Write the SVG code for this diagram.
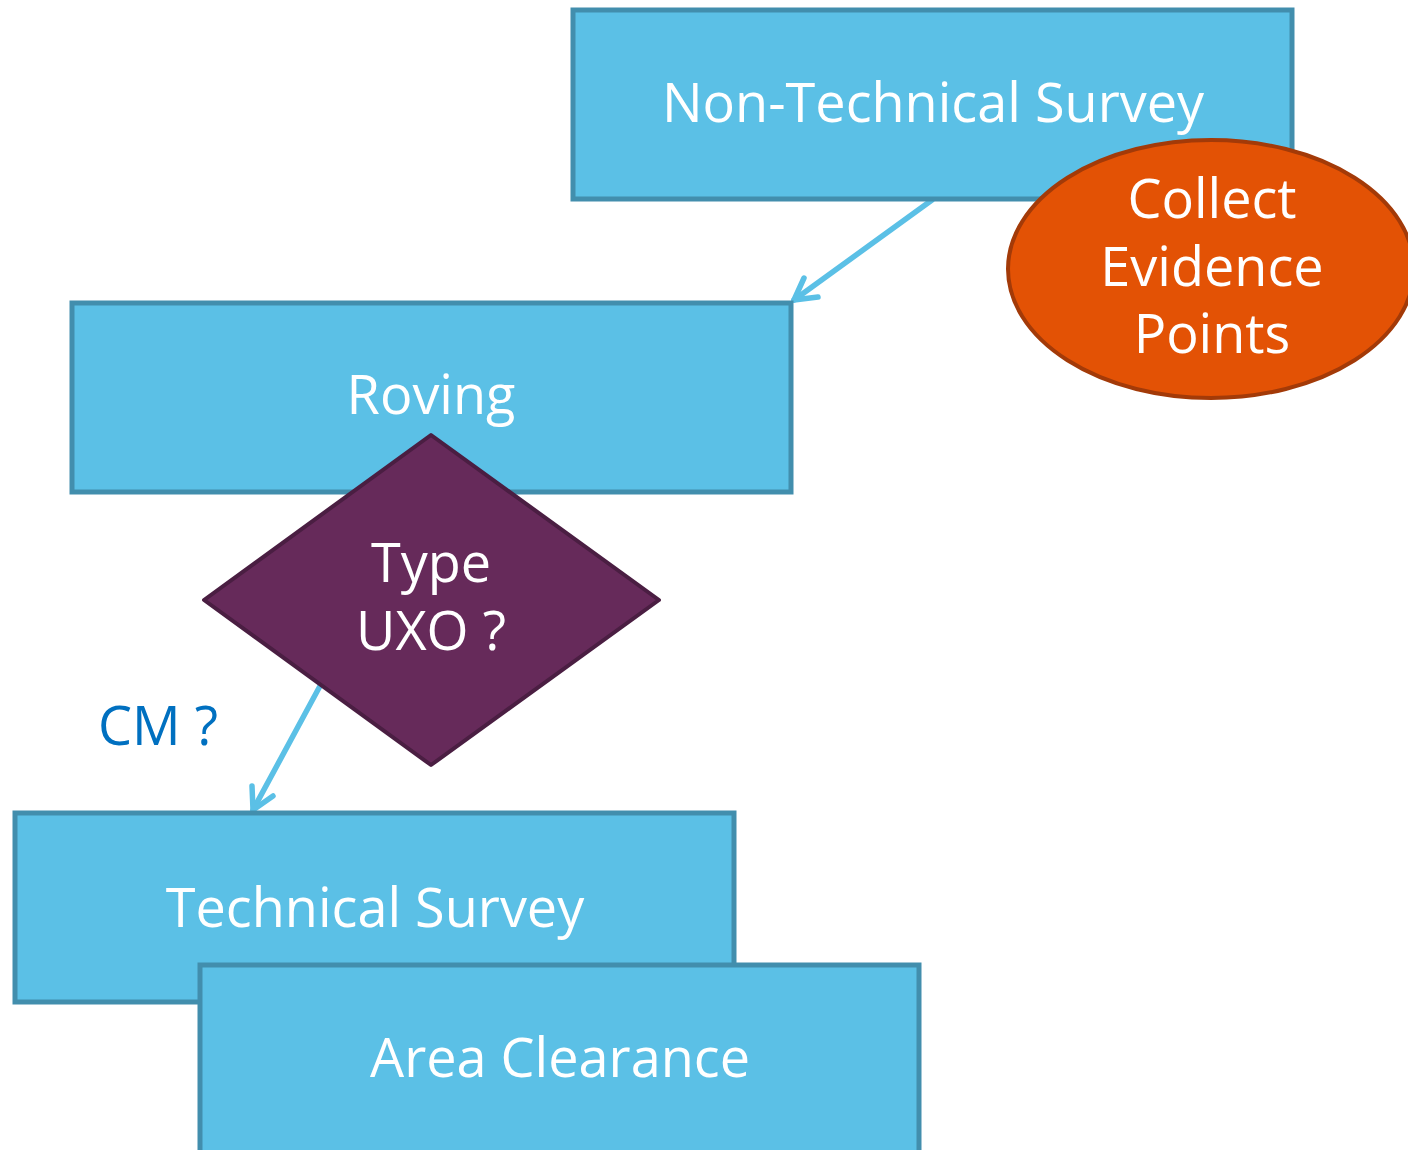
<svg xmlns="http://www.w3.org/2000/svg" width="1408" height="1150" viewBox="0 0 1408 1150">
<defs>
<style>
.box{fill:#5BC0E6;stroke:#428EAD;stroke-width:5}
.t{font-family:"Open Sans","Liberation Sans",sans-serif;font-size:54px;fill:#FFFFFF;text-anchor:middle}
.c{stroke:#5BC0E6;stroke-width:5.5;fill:none;stroke-linecap:round;stroke-linejoin:round}
</style>
</defs>
<rect width="1408" height="1150" fill="#FFFFFF"/>
<g id="connectors">
<path class="c" d="M932,200 L794,300"/>
<path class="c" d="M794,300 L804,278 M794,300 L818,297"/>
<path class="c" d="M320,686 L253,810"/>
<path class="c" d="M253,810 L252,786 M253,810 L273,796"/>
</g>
<g id="nts"><rect class="box" x="573" y="10" width="719" height="189"/><text class="t" x="933" y="122">Non-Technical Survey</text></g>
<g id="collect"><ellipse cx="1211" cy="269" rx="203" ry="129" fill="#E35205" stroke="#A33A08" stroke-width="4"/><text class="t" x="1212" y="218">Collect</text><text class="t" x="1212" y="286">Evidence</text><text class="t" x="1212" y="353">Points</text></g>
<g id="roving"><rect class="box" x="72" y="303" width="719" height="189"/><text class="t" x="431" y="414">Roving</text></g>
<g id="type"><polygon points="431,435 659,600 431,765 204,600" fill="#662A5A" stroke="#4A1E42" stroke-width="4" stroke-linejoin="round"/><text class="t" x="431" y="582">Type</text><text class="t" x="431" y="650">UXO ?</text></g>
<g id="cm"><text class="t" x="158" y="745" style="fill:#0070C0">CM ?</text></g>
<g id="ts"><rect class="box" x="15" y="813" width="719" height="189"/><text class="t" x="375" y="927">Technical Survey</text></g>
<g id="ac"><rect class="box" x="200" y="965" width="719" height="200"/><text class="t" x="560" y="1077">Area Clearance</text></g>
</svg>
